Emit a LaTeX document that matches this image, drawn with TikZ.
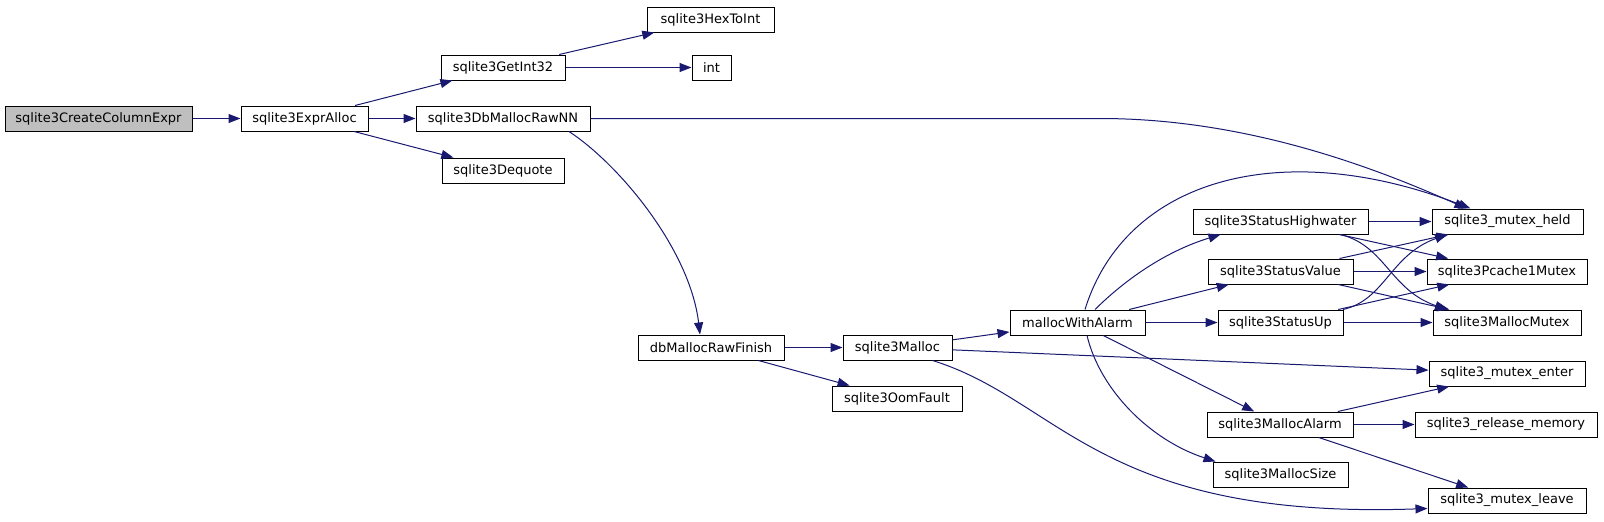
\documentclass[tikz,border=0pt]{standalone}
\usepackage{fontspec}
\setmainfont{DejaVu Sans}
\usepackage{tikz}
\usetikzlibrary{arrows.meta}
\definecolor{DGedge}{HTML}{191970}
\definecolor{DGroot}{HTML}{BFBFBF}
\tikzset{
  fnbox/.style={draw=black, fill=white, line width=1pt, minimum height=25pt, inner sep=0pt, font=\fontsize{13}{15}\selectfont, text=black},
  rootbox/.style={fnbox, fill=DGroot},
  callarr/.style={-{Triangle[length=12pt, width=9pt]}, line width=1pt, draw=DGedge}
}

\begin{document}
\begin{tikzpicture}[x=1pt, y=-1pt]
\useasboundingbox (0,0) rectangle (1604,522);
\node[rootbox, minimum width=187pt] (create) at (98.5,118.5) {sqlite3CreateColumnExpr};
\node[fnbox, minimum width=127pt] (exprAlloc) at (304.5,118.5) {sqlite3ExprAlloc};
\node[fnbox, minimum width=124pt] (getInt32) at (503,67.5) {sqlite3GetInt32};
\node[fnbox, minimum width=127pt] (hexToInt) at (710.5,19.5) {sqlite3HexToInt};
\node[fnbox, minimum width=39pt] (int) at (711.5,67.5) {int};
\node[fnbox, minimum width=174pt] (dbRawNN) at (503,118.5) {sqlite3DbMallocRawNN};
\node[fnbox, minimum width=122pt] (dequote) at (503,170.5) {sqlite3Dequote};
\node[fnbox, minimum width=146pt] (rawFinish) at (711,347.5) {dbMallocRawFinish};
\node[fnbox, minimum width=109pt] (malloc) at (897.5,347.5) {sqlite3Malloc};
\node[fnbox, minimum width=130pt] (oomFault) at (897,398.5) {sqlite3OomFault};
\node[fnbox, minimum width=135pt] (withAlarm) at (1077.5,322.5) {mallocWithAlarm};
\node[fnbox, minimum width=175pt] (highwater) at (1280.5,221.5) {sqlite3StatusHighwater};
\node[fnbox, minimum width=145pt] (statusValue) at (1280.5,271.5) {sqlite3StatusValue};
\node[fnbox, minimum width=125pt] (statusUp) at (1280.5,322.5) {sqlite3StatusUp};
\node[fnbox, minimum width=151pt] (mutexHeld) at (1507.5,221.5) {sqlite3\_mutex\_held};
\node[fnbox, minimum width=160pt] (pcache1Mutex) at (1507,271.5) {sqlite3Pcache1Mutex};
\node[fnbox, minimum width=148pt] (mallocMutex) at (1507,322.5) {sqlite3MallocMutex};
\node[fnbox, minimum width=156pt] (mutexEnter) at (1507,373.5) {sqlite3\_mutex\_enter};
\node[fnbox, minimum width=146pt] (mallocAlarm) at (1280,424.5) {sqlite3MallocAlarm};
\node[fnbox, minimum width=182pt] (releaseMem) at (1506,424.5) {sqlite3\_release\_memory};
\node[fnbox, minimum width=135pt] (mallocSize) at (1280.5,474.5) {sqlite3MallocSize};
\node[fnbox, minimum width=158pt] (mutexLeave) at (1507,500.5) {sqlite3\_mutex\_leave};
\draw[callarr] (create) -- (exprAlloc);
\draw[callarr] (exprAlloc) -- (getInt32);
\draw[callarr] (exprAlloc) -- (dbRawNN);
\draw[callarr] (exprAlloc) -- (dequote);
\draw[callarr] (getInt32) -- (hexToInt);
\draw[callarr] (getInt32) -- (int);
\draw[callarr] (dbRawNN.east) -- (1100,118.5) .. controls (1250,118.5) and (1380,170) .. ([xshift=-41]mutexHeld.north);
\draw[callarr] ([xshift=66]dbRawNN.south) .. controls (620,165) and (690,250) .. ([xshift=-11]rawFinish.north);
\draw[callarr] (rawFinish) -- (malloc);
\draw[callarr] (rawFinish) -- (oomFault);
\draw[callarr] (malloc) -- (withAlarm);
\draw[callarr] (malloc) -- (mutexEnter);
\draw[callarr] ([xshift=35]malloc.south) .. controls (1060,400) and (1100,520) .. ([yshift=-8]mutexLeave.west);
\draw[callarr] ([xshift=7.5]withAlarm.north) .. controls (1125,180) and (1280,135) .. ([xshift=-37]mutexHeld.north);
\draw[callarr] ([xshift=17.5]withAlarm.north) .. controls (1130,275) and (1170,250) .. ([xshift=-60]highwater.south);
\draw[callarr] (withAlarm) -- (statusValue);
\draw[callarr] (withAlarm) -- (statusUp);
\draw[callarr] (withAlarm) -- (mallocAlarm);
\draw[callarr] ([xshift=9.5]withAlarm.south) .. controls (1100,390) and (1150,440) .. ([xshift=3]mallocSize.north west);
\draw[callarr] (highwater) -- (mutexHeld);
\draw[callarr] (highwater) -- (pcache1Mutex);
\draw[callarr] ([xshift=59.5]highwater.south) .. controls (1385,245) and (1390,290) .. ([xshift=-60]mallocMutex.north);
\draw[callarr] (statusValue) -- (mutexHeld);
\draw[callarr] (statusValue) -- (pcache1Mutex);
\draw[callarr] (statusValue) -- (mallocMutex);
\draw[callarr] ([xshift=62.5]statusUp.north) .. controls (1385,300) and (1390,255) .. ([xshift=-60.5]mutexHeld.south);
\draw[callarr] (statusUp) -- (pcache1Mutex);
\draw[callarr] (statusUp) -- (mallocMutex);
\draw[callarr] (mallocAlarm) -- (mutexEnter);
\draw[callarr] (mallocAlarm) -- (releaseMem);
\draw[callarr] (mallocAlarm) -- (mutexLeave);
\end{tikzpicture}
\end{document}
